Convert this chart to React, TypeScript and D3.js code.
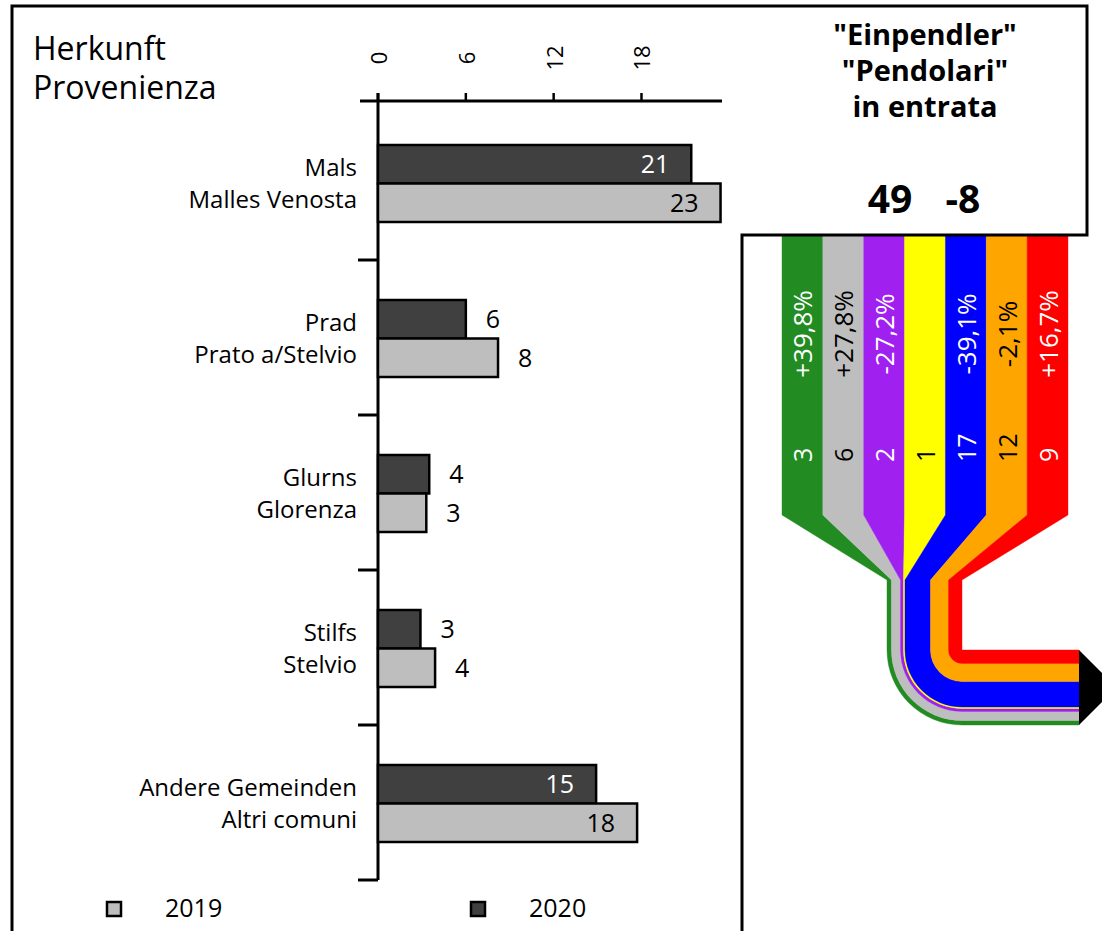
import React from "react";
import * as d3 from "d3";

// ---------- data ----------
const categoriesDE = ["Mals", "Prad", "Glurns", "Stilfs", "Andere Gemeinden"];
const categoriesIT = ["Malles Venosta", "Prato a/Stelvio", "Glorenza", "Stelvio", "Altri comuni"];
const values2020 = [21.4, 6.0, 3.5, 2.9, 14.9];
const values2019 = [23.4, 8.2, 3.3, 3.9, 17.7];
const xTicks = [0, 6, 12, 18];
const seriesNames = ["2020", "2019"];
const legendYears = ["2019", "2020"];

const flowCounts = [3, 6, 2, 1, 17, 12, 9];
const flowChanges: (number | null)[] = [39.8, 27.8, -27.2, null, -39.1, -2.1, 16.7];
const flowColors = ["#228B22", "#BEBEBE", "#A020F0", "#FFFF00", "#0000FF", "#FFA500", "#FF0000"];
const flowTextColors = ["#fff", "#000", "#fff", "#000", "#fff", "#000", "#fff"];

const headerLines = ['"Einpendler"', '"Pendolari"', "in entrata"];

const FONT = "'Open Sans', sans-serif";

const locale = d3.formatLocale({
  decimal: ",",
  thousands: ".",
  grouping: [3],
  currency: ["", "€"],
  minus: "-",
});
const fmtPct = locale.format("+.1f");
const fmtInt = locale.format(".0f");

export default function App() {
  const W = 1102;
  const H = 931;

  // bar chart scales
  const x = d3.scaleLinear().domain([0, 23.5]).range([378, 722]);
  const y = d3.scaleBand<number>().domain(d3.range(categoriesDE.length)).range([105, 880]);
  const ySub = d3.scaleBand<string>().domain(seriesNames).range([40, 117]);
  const barFill: Record<string, string> = { "2020": "#404040", "2019": "#BEBEBE" };
  const seriesVals: Record<string, number[]> = { "2020": values2020, "2019": values2019 };

  const total2020 = d3.sum(values2020);
  const total2019 = d3.sum(values2019);

  // flow scales
  const top = 236;
  const yTaper = 515;
  const yStem = 580;
  const cx = 962;
  const cy = 650;
  const xEnd = 1079;
  const bandX = d3.scaleBand<number>().domain(d3.range(flowCounts.length)).range([782, 1068]);
  const wScale = d3.scaleLinear().domain([0, d3.sum(flowCounts)]).range([0, 75]);
  const cum = d3.cumsum(flowCounts);
  const totalW = wScale(d3.sum(flowCounts));

  const flows = flowCounts.map((v, i) => {
    const before = i === 0 ? 0 : cum[i - 1];
    const rO = totalW - wScale(before);
    const rI = totalW - wScale(before + v);
    const s0 = cx - rO;
    const s1 = cx - rI;
    const x0 = bandX(i)!;
    const x1 = x0 + bandX.bandwidth();
    const p = d3.path();
    p.moveTo(x0, top);
    p.lineTo(x0, yTaper);
    p.lineTo(s0, yStem);
    p.lineTo(s0, cy);
    p.arc(cx, cy, rO, Math.PI, Math.PI / 2, true);
    p.lineTo(xEnd, cy + rO);
    p.lineTo(xEnd, cy + rI);
    p.lineTo(cx, cy + rI);
    if (rI > 0) p.arc(cx, cy, rI, Math.PI / 2, Math.PI, false);
    p.lineTo(s1, yStem);
    p.lineTo(x1, yTaper);
    p.lineTo(x1, top);
    p.closePath();
    return { d: p.toString(), cxBand: x0 + bandX.bandwidth() / 2 };
  });

  const arrowH = totalW;
  const arrow = `M${xEnd},${cy} L${xEnd + arrowH / 2},${cy + arrowH / 2} L${xEnd},${cy + arrowH} Z`;

  return (
    <svg
      width={W}
      height={H}
      style={{ position: "absolute", left: 0, top: 0, background: "#fff" }}
      fontFamily={FONT}
    >
      <rect width={W} height={H} fill="#fff" />

      {/* flows */}
      {flows.map((f, i) => (
        <path key={i} d={f.d} fill={flowColors[i]} stroke={flowColors[i]} strokeWidth={0.4} />
      ))}
      <path d={arrow} fill="#000" />
      {flows.map((f, i) => (
        <g key={"t" + i} fill={flowTextColors[i]} fontSize={25}>
          {flowChanges[i] !== null && (
            <text
              transform={`translate(${f.cxBand},334) rotate(-90)`}
              textAnchor="middle"
              dominantBaseline="central"
              fontSize={26}
            >
              {fmtPct(flowChanges[i] as number) + "%"}
            </text>
          )}
          <text
            transform={`translate(${f.cxBand},462) rotate(-90)`}
            textAnchor="start"
            dominantBaseline="central"
          >
            {fmtInt(flowCounts[i])}
          </text>
        </g>
      ))}

      {/* frame */}
      <path
        d="M12,931 L12,6 L1087,6 L1087,235 L742,235 L742,931"
        fill="none"
        stroke="#000"
        strokeWidth={3}
      />

      {/* left title */}
      <text x={33} y={60} fontSize={32}>Herkunft</text>
      <text x={33} y={99} fontSize={32}>Provenienza</text>

      {/* right header */}
      {headerLines.map((t, i) => (
        <text key={t} x={925} y={45 + i * 36} fontSize={29} fontWeight="bold" textAnchor="middle">
          {t}
        </text>
      ))}
      <text x={890} y={213} fontSize={39} fontWeight="bold" textAnchor="middle">
        {fmtInt(total2020)}
      </text>
      <text x={963} y={213} fontSize={39} fontWeight="bold" textAnchor="middle">
        {fmtInt(total2020 - total2019)}
      </text>

      {/* x axis (top) */}
      <line x1={360} x2={x.range()[1]} y1={101} y2={101} stroke="#000" strokeWidth={3} />
      {xTicks.map((t) => (
        <g key={t}>
          <line x1={x(t)} x2={x(t)} y1={93} y2={101} stroke="#000" strokeWidth={2.5} />
          <text
            transform={`translate(${x(t)},58) rotate(-90)`}
            textAnchor="middle"
            dominantBaseline="central"
            fontSize={22}
          >
            {t}
          </text>
        </g>
      ))}
      {/* y axis */}
      <line x1={x(0)} x2={x(0)} y1={93} y2={880} stroke="#000" strokeWidth={3} />
      {categoriesDE.map((_, i) => (
        <line
          key={i}
          x1={358}
          x2={x(0)}
          y1={y(i)! + y.bandwidth()}
          y2={y(i)! + y.bandwidth()}
          stroke="#000"
          strokeWidth={3}
        />
      ))}

      {/* bars */}
      {categoriesDE.map((c, i) => (
        <g key={c} transform={`translate(0,${y(i)})`}>
          {seriesNames.map((s) => {
            const v = seriesVals[s][i];
            const by = ySub(s)!;
            const bh = ySub.bandwidth();
            const inside = v > 10;
            return (
              <g key={s}>
                <rect
                  x={x(0)}
                  y={by}
                  width={x(v) - x(0)}
                  height={bh}
                  fill={barFill[s]}
                  stroke="#000"
                  strokeWidth={2.5}
                />
                <text
                  x={inside ? x(v) - 22 : x(v) + 20}
                  y={by + bh / 2}
                  dy="0.36em"
                  textAnchor={inside ? "end" : "start"}
                  fontSize={25}
                  fill={inside && s === "2020" ? "#fff" : "#000"}
                >
                  {fmtInt(v)}
                </text>
              </g>
            );
          })}
          <text x={357} y={y.bandwidth() / 2 - 7} textAnchor="end" fontSize={24}>
            {c}
          </text>
          <text x={357} y={y.bandwidth() / 2 + 25} textAnchor="end" fontSize={24}>
            {categoriesIT[i]}
          </text>
        </g>
      ))}

      {/* legend */}
      {legendYears.map((yr, i) => (
        <g key={yr} transform={`translate(${i === 0 ? 107 : 471},902)`}>
          <rect width={14} height={14} fill={barFill[yr]} stroke="#000" strokeWidth={2.5} />
          <text x={58} y={15} fontSize={25}>
            {yr}
          </text>
        </g>
      ))}
    </svg>
  );
}
